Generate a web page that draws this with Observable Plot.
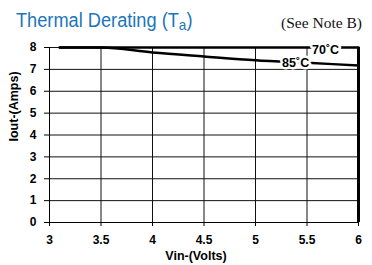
<!DOCTYPE html>
<html>
<head>
<meta charset="utf-8">
<script src="https://cdn.jsdelivr.net/npm/d3@7"></script>
<script src="https://cdn.jsdelivr.net/npm/@observablehq/plot@0.6"></script>
<style>
  html, body { margin: 0; padding: 0; background: #fff; }
  #wrap { width: 372px; height: 265px; position: relative; overflow: hidden; }
  #title { position: relative; width: 372px; height: 36px; }
  #main { position: absolute; left: 16px; top: 9.8px; font-family: "Liberation Sans", Arial, sans-serif; font-size: 20px; line-height: 20px; color: #1b76bc; white-space: nowrap; transform: scaleX(0.91); transform-origin: 0 0; }
  #main .sub { font-size: 15px; position: relative; top: 3px; }
  #note { position: absolute; right: 10px; top: 14.6px; font-family: "Liberation Serif", "Times New Roman", serif; font-size: 15.5px; line-height: 15.5px; color: #111; white-space: nowrap; }
  svg { display: block; }
</style>
</head>
<body>
<div id="wrap">
  <div id="title">
    <span id="main"></span>
    <span id="note"></span>
  </div>
  <div id="chart"></div>
</div>
<script>
// ---- data ----
const titleMain = "Thermal Derating (T";
const titleSub = "a";
const titleEnd = ")";
const noteText = "(See Note B)";
const vin = [3.1, 3.5, 4, 4.5, 5, 5.5, 6];
const iout70 = [8, 8, 8, 8, 8, 8, 8];
const iout85 = [8, 8, 7.77, 7.59, 7.42, 7.3, 7.18];
const xTicks = [3, 3.5, 4, 4.5, 5, 5.5, 6];
const yTicks = [0, 1, 2, 3, 4, 5, 6, 7, 8];
const seriesLabels = ["70˚C", "85˚C"];
const labelVin = [5.68, 5.39];
const labelIout = [7.88, 7.27];
const leaderVin = [5.57];
const leaderFrom = [8];
const leaderTo = [7.84];
const xTitle = "Vin-(Volts)";
const yTitle = "Iout-(Amps)";

// ---- title ----
const main = document.getElementById("main");
main.append(titleMain);
const sub = document.createElement("span");
sub.className = "sub";
sub.textContent = titleSub;
main.append(sub, titleEnd);
document.getElementById("note").textContent = noteText;

// ---- chart ----
const line70 = vin.map((v, i) => ({vin: v, iout: iout70[i]}));
const line85 = vin.map((v, i) => ({vin: v, iout: iout85[i]}));
const labels = seriesLabels.map((t, i) => ({text: t, vin: labelVin[i], iout: labelIout[i]}));
const leaders = leaderVin.map((v, i) => ({vin: v, y1: leaderFrom[i], y2: leaderTo[i]}));

const chart = Plot.plot({
  width: 372,
  height: 229,
  marginTop: 11,
  marginBottom: 43,
  marginLeft: 49,
  marginRight: 14,
  x: {domain: [3, 6]},
  y: {domain: [0, 8]},
  style: {fontFamily: "'Liberation Sans', Arial, sans-serif", fontWeight: "bold", fontSize: "12px", color: "#000", background: "#fff"},
  marks: [
    Plot.gridX({ticks: xTicks, stroke: "#111", strokeOpacity: 1}),
    Plot.gridY({ticks: yTicks, stroke: "#111", strokeOpacity: 1}),
    Plot.axisX({ticks: xTicks, tickSize: 4, tickPadding: 9, tickFormat: d => String(d), label: null}),
    Plot.axisY({ticks: yTicks, tickSize: 5, tickPadding: 8, tickFormat: d => String(d), label: null}),
    Plot.ruleY([0], {stroke: "#000"}),
    Plot.ruleX([3], {stroke: "#000"}),
    Plot.ruleX([6], {stroke: "#000", strokeWidth: 3}),
    Plot.line(line70, {x: "vin", y: "iout", stroke: "#000", strokeWidth: 2.5}),
    Plot.line(line85, {x: "vin", y: "iout", stroke: "#000", strokeWidth: 2.5, curve: "monotone-x"}),
    Plot.ruleX(leaders, {x: "vin", y1: "y1", y2: "y2", stroke: "#000", strokeWidth: 1}),
    Plot.text(labels, {x: "vin", y: "iout", text: "text", fill: "#000", stroke: "#fff", strokeWidth: 5, fontSize: 12.5, fontWeight: "bold"}),
    Plot.text([xTitle], {frameAnchor: "bottom", dy: 37, dx: -8, fontSize: 12.5, fontWeight: "bold"}),
    Plot.text([yTitle], {frameAnchor: "left", rotate: -90, dx: -35.5, dy: 6.5, fontSize: 12.5, fontWeight: "bold"})
  ]
});
document.getElementById("chart").append(chart);
</script>
</body>
</html>
